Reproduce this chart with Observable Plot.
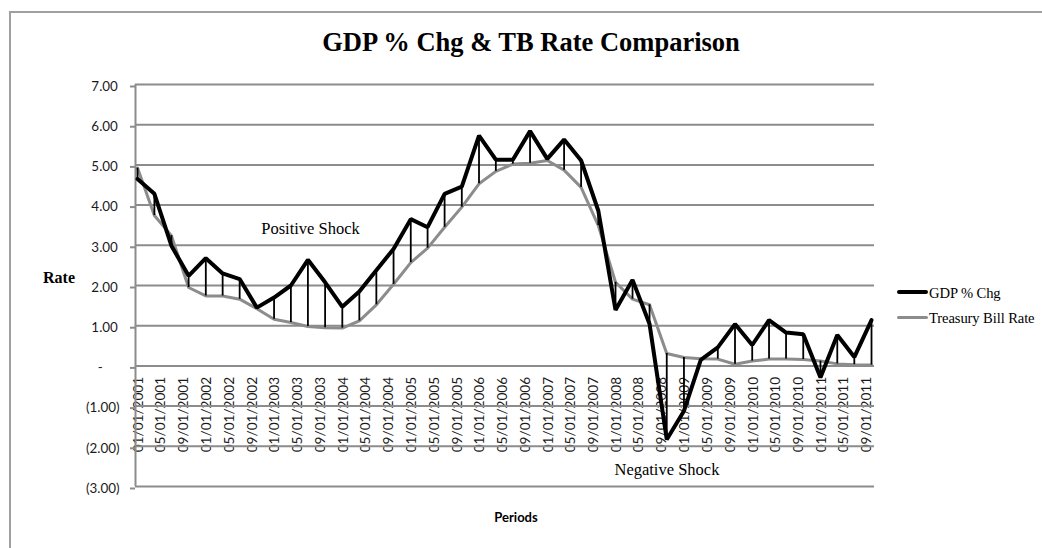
<!DOCTYPE html>
<html>
<head>
<meta charset="utf-8">
<script src="https://cdn.jsdelivr.net/npm/d3@7"></script>
<script src="https://cdn.jsdelivr.net/npm/@observablehq/plot@0.6"></script>
<style>
  html, body { margin: 0; padding: 0; background: #fff; overflow: hidden; }
  #wrap { position: relative; width: 1042px; height: 548px; overflow: hidden; }
  #border { position: absolute; left: 9px; top: 11px; width: 1100px; height: 700px; border: 2px solid #a0a0a0; box-sizing: border-box; }
  .abs { position: absolute; white-space: nowrap; line-height: 1; }
  #title { left: 0; width: 1062px; text-align: center; top: 27px; font: bold 26.5px "Liberation Serif", serif; color: #000; }
  #ylab { left: 43px; top: 269px; font: bold 16px "Liberation Serif", serif; }
  #xlab { left: 0; width: 1032px; text-align: center; top: 509px; font: bold 13px Lato, sans-serif; }
  .legline { position: absolute; left: 897px; width: 31px; }
  .legtxt { left: 929px; font: 14.6px "Liberation Serif", serif; letter-spacing: -0.1px; }
  #chart { position: absolute; left: 0; top: 0; }
</style>
</head>
<body>
<div id="wrap">
  <div id="border"></div>
  <div id="chart"></div>
  <div id="title" class="abs">GDP % Chg &amp; TB Rate Comparison</div>
  <div id="ylab" class="abs">Rate</div>
  <div id="xlab" class="abs">Periods</div>
  <div class="legline" style="top:290px;height:4px;background:#000;border-radius:2px;"></div>
  <div class="abs legtxt" style="top:284.5px;">GDP % Chg</div>
  <div class="legline" style="top:316px;height:3px;background:#8c8c8c;border-radius:1.5px;"></div>
  <div class="abs legtxt" style="top:310px;">Treasury Bill Rate</div>
</div>
<script>
// Quarterly periods
const periods = [
  "01/01/2001","04/01/2001","07/01/2001","10/01/2001",
  "01/01/2002","04/01/2002","07/01/2002","10/01/2002",
  "01/01/2003","04/01/2003","07/01/2003","10/01/2003",
  "01/01/2004","04/01/2004","07/01/2004","10/01/2004",
  "01/01/2005","04/01/2005","07/01/2005","10/01/2005",
  "01/01/2006","04/01/2006","07/01/2006","10/01/2006",
  "01/01/2007","04/01/2007","07/01/2007","10/01/2007",
  "01/01/2008","04/01/2008","07/01/2008","10/01/2008",
  "01/01/2009","04/01/2009","07/01/2009","10/01/2009",
  "01/01/2010","04/01/2010","07/01/2010","10/01/2010",
  "01/01/2011","04/01/2011","07/01/2011","10/01/2011"
];
// GDP % change
const gdp = [
  4.65, 4.28, 2.99, 2.24,
  2.68, 2.30, 2.16, 1.45,
  1.70, 2.00, 2.64, 2.08,
  1.47, 1.85, 2.38, 2.91,
  3.65, 3.45, 4.28, 4.46,
  5.73, 5.13, 5.13, 5.84,
  5.15, 5.63, 5.11, 3.86,
  1.39, 2.14, 1.04, -1.83,
  -1.12, 0.15, 0.46, 1.04,
  0.52, 1.14, 0.83, 0.79,
  -0.29, 0.77, 0.22, 1.14
];
// Treasury bill rate
const tbRate = [
  4.92, 3.74, 3.24, 1.95,
  1.74, 1.74, 1.66, 1.42,
  1.16, 1.08, 0.98, 0.95,
  0.94, 1.12, 1.52, 2.03,
  2.57, 2.93, 3.45, 3.95,
  4.53, 4.84, 5.02, 5.04,
  5.11, 4.87, 4.44, 3.49,
  2.08, 1.66, 1.52, 0.31,
  0.21, 0.18, 0.17, 0.04,
  0.12, 0.17, 0.17, 0.16,
  0.12, 0.05, 0.03, 0.02
];
// Axis tick labels (every 4 months)
const xTickLabels = [
  "01/01/2001","05/01/2001","09/01/2001",
  "01/01/2002","05/01/2002","09/01/2002",
  "01/01/2003","05/01/2003","09/01/2003",
  "01/01/2004","05/01/2004","09/01/2004",
  "01/01/2005","05/01/2005","09/01/2005",
  "01/01/2006","05/01/2006","09/01/2006",
  "01/01/2007","05/01/2007","09/01/2007",
  "01/01/2008","05/01/2008","09/01/2008",
  "01/01/2009","05/01/2009","09/01/2009",
  "01/01/2010","05/01/2010","09/01/2010",
  "01/01/2011","05/01/2011","09/01/2011"
];
const yTicks = [-3, -2, -1, 0, 1, 2, 3, 4, 5, 6, 7];
const xDomain = ["12/21/2000", "10/17/2011"];
const annotations = [
  {date: "07/15/2003", value: 3.29, text: "Positive Shock"},
  {date: "10/02/2008", value: -2.71, text: "Negative Shock"}
];

const parse = d3.utcParse("%m/%d/%Y");
const data = periods.map((p, i) => ({date: parse(p), gdp: gdp[i], tb: tbRate[i]}));
const fmt = v => v < 0 ? `(${(-v).toFixed(2)})` : v === 0 ? "-\u2003\u2002" : `${v.toFixed(2)}\u2009`;
const grid = "#8c8c8c";

const chart = Plot.plot({
  width: 1042,
  height: 548,
  marginLeft: 135,
  marginRight: 168,
  marginTop: 84,
  marginBottom: 62,
  style: {background: "transparent", fontFamily: "Lato, sans-serif"},
  x: {type: "utc", domain: xDomain.map(parse), axis: null},
  y: {domain: [-3, 7], axis: null},
  marks: [
    Plot.text(xTickLabels, {
      x: d => parse(d), y: () => 0, text: d => d,
      rotate: -90, textAnchor: "end", lineAnchor: "middle",
      dy: 11, dx: 1, fontSize: 13.6, fill: "#1a1a1a", fontFamily: "Lato, sans-serif"
    }),
    Plot.ruleY(yTicks, {stroke: grid, strokeWidth: 2}),
    Plot.ruleX([parse(xDomain[0])], {y1: -3, y2: 7, stroke: grid, strokeWidth: 2}),
    Plot.axisY({
      ticks: yTicks, tickSize: 5, tickPadding: 11, tickFormat: fmt,
      stroke: grid, strokeWidth: 2, fontSize: 13.4, fill: "#1a1a1a", label: null,
      fontFamily: "Lato, sans-serif", dy: 2
    }),
    Plot.line(data, {x: "date", y: "tb", stroke: grid, strokeWidth: 3, strokeLinejoin: "round"}),
    Plot.ruleX(data, {x: "date", y1: "gdp", y2: "tb", stroke: "#000", strokeWidth: 1.8}),
    Plot.line(data, {x: "date", y: "gdp", stroke: "#000", strokeWidth: 4, strokeLinejoin: "miter"}),
    Plot.text(annotations, {
      x: d => parse(d.date), y: "value", text: "text",
      lineAnchor: "bottom", textAnchor: "middle",
      fontSize: 16.5, fontFamily: "Liberation Serif, serif", fill: "#000"
    })
  ]
});
document.getElementById("chart").appendChild(chart);
</script>
</body>
</html>
